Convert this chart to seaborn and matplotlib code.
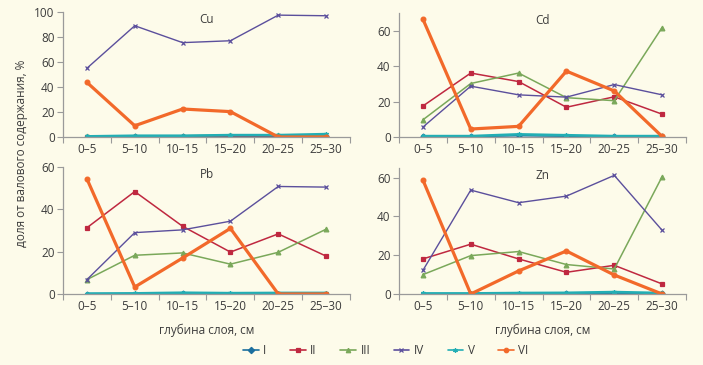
import matplotlib
matplotlib.use("Agg")
import matplotlib.pyplot as plt
from matplotlib.lines import Line2D
import seaborn as sns
import pandas as pd

categories = ["0–5", "5–10", "10–15", "15–20", "20–25", "25–30"]
series_names = ["I", "II", "III", "IV", "V", "VI"]

cu_I = [0.3, 0.5, 0.5, 0.5, 0.5, 0.5]
cu_II = [0.1, 0.1, 0.1, 0.1, 0.1, 0.1]
cu_III = [0.5, 1.0, 1.0, 1.5, 1.5, 1.5]
cu_IV = [55, 89, 75.5, 77, 97.5, 97]
cu_V = [0.5, 1.0, 1.0, 1.5, 1.5, 2.3]
cu_VI = [43.7, 9, 22.4, 20.3, 0, 0]

cd_I = [0.3, 0.3, 0.8, 0.5, 0.3, 0.3]
cd_II = [17.5, 36.1, 31.3, 16.8, 22.7, 12.9]
cd_III = [9.7, 30.2, 36.1, 22.2, 20.5, 61.8]
cd_IV = [5.6, 28.7, 23.8, 22.5, 29.6, 23.8]
cd_V = [0.5, 0.5, 1.5, 1.0, 0.5, 0.5]
cd_VI = [66.5, 4.5, 6.0, 37.2, 26, 0.3]

pb_I = [0.1, 0.1, 0.3, 0.1, 0.1, 0.1]
pb_II = [31.3, 48.4, 32, 19.8, 28.4, 17.9]
pb_III = [6.8, 18.3, 19.4, 14.1, 19.7, 30.6]
pb_IV = [6.8, 29, 30.3, 34.4, 50.8, 50.5]
pb_V = [0.2, 0.3, 0.6, 0.4, 0.5, 0.5]
pb_VI = [54.4, 3.3, 17, 31, 0, 0]

zn_I = [0.1, 0.1, 0.2, 0.3, 0.5, 0.3]
zn_II = [18.1, 25.7, 18.1, 11.2, 14.8, 5.2]
zn_III = [10, 19.8, 21.9, 15.2, 12.9, 60.5]
zn_IV = [12.2, 53.6, 47.1, 50.5, 61.2, 32.9]
zn_V = [0.3, 0.3, 0.5, 0.6, 1.0, 0.5]
zn_VI = [58.8, 0, 11.9, 22.2, 9.8, 0]

panels = [
    ("Cu", [cu_I, cu_II, cu_III, cu_IV, cu_V, cu_VI], 100, [0, 20, 40, 60, 80, 100]),
    ("Cd", [cd_I, cd_II, cd_III, cd_IV, cd_V, cd_VI], 70, [0, 20, 40, 60]),
    ("Pb", [pb_I, pb_II, pb_III, pb_IV, pb_V, pb_VI], 60, [0, 20, 40, 60]),
    ("Zn", [zn_I, zn_II, zn_III, zn_IV, zn_V, zn_VI], 65, [0, 20, 40, 60]),
]

colors = ["#1b6f9e", "#bf2840", "#7aa85a", "#5b4f9c", "#22aeb4", "#f2692a"]
markers = ["D", "s", "^", "x", (6, 2, 0), "o"]
msizes = [2.5, 3.2, 3.4, 3.4, 3.4, 3.4]
lws = [1.3, 1.1, 1.1, 1.0, 1.9, 2.3]

bg = "#fdfbea"
txt = "#3c3c3c"
spine_c = "#9a9a9a"

sns.set_theme(style="white")
plt.rcParams["font.family"] = ["Open Sans", "DejaVu Sans"]

fig = plt.figure(figsize=(7.03, 3.65), dpi=100)
fig.patch.set_facecolor(bg)

W, H = 703, 365
boxes = [
    (63, 12, 350, 137),
    (399, 13, 686, 137),
    (63, 167, 350, 294),
    (399, 168, 686, 294),
]

axes = []
for (title, data, ymax, yticks), (x0, y0, x1, y1) in zip(panels, boxes):
    ax = fig.add_axes([x0 / W, 1 - y1 / H, (x1 - x0) / W, (y1 - y0) / H])
    ax.set_facecolor(bg)
    for name, vals, c, m, ms, lw in zip(series_names, data, colors, markers, msizes, lws):
        df = pd.DataFrame({"x": categories, "y": vals})
        sns.lineplot(data=df, x="x", y="y", ax=ax, color=c, marker=m, markersize=ms,
                     linewidth=lw, markeredgecolor=c, markeredgewidth=0.9, label=name,
                     legend=False, sort=False)
    ax.set_xlim(-0.5, 5.5)
    ax.set_ylim(0, ymax)
    ax.set_yticks(yticks)
    ax.set_xticks(range(6))
    ax.set_xticklabels(categories)
    ax.set_xticks([i - 0.5 for i in range(7)], minor=True)
    ax.tick_params(axis="x", which="major", length=0, labelsize=8.5, colors=txt, pad=4)
    ax.tick_params(axis="x", which="minor", length=4, color=spine_c, width=0.8, direction="out", bottom=True)
    ax.tick_params(axis="y", which="major", length=4, color=spine_c, width=0.8, labelsize=8.5,
                   labelcolor=txt, left=True, pad=2)
    for s in ["top", "right"]:
        ax.spines[s].set_visible(False)
    for s in ["left", "bottom"]:
        ax.spines[s].set_color(spine_c)
        ax.spines[s].set_linewidth(0.9)
    ax.set_xlabel("")
    ax.set_ylabel("")
    ax.text(2.5, ymax * 0.99, title, ha="center", va="top", fontsize=8.5, color=txt)
    axes.append(ax)

for ax in axes[2:]:
    ax.set_xlabel("глубина слоя, см", fontsize=8.5, color=txt, labelpad=8)

fig.text(22 / W, 1 - 153 / H, "доля от валового содержания, %", rotation=90,
         ha="center", va="center", fontsize=8.5, color=txt)

handles = [Line2D([0], [0], color=c, marker=m, markersize=3.2, linewidth=1.2,
                  markeredgecolor=c, markeredgewidth=0.9)
           for c, m in zip(colors, markers)]
fig.legend(handles, series_names, loc="center", bbox_to_anchor=(386 / W, 1 - 351 / H), ncol=6,
           frameon=False, fontsize=8.5, labelcolor=txt, handlelength=1.3, columnspacing=2.0,
           handletextpad=0.4)

fig.savefig("out.png", dpi=100, facecolor=bg)
